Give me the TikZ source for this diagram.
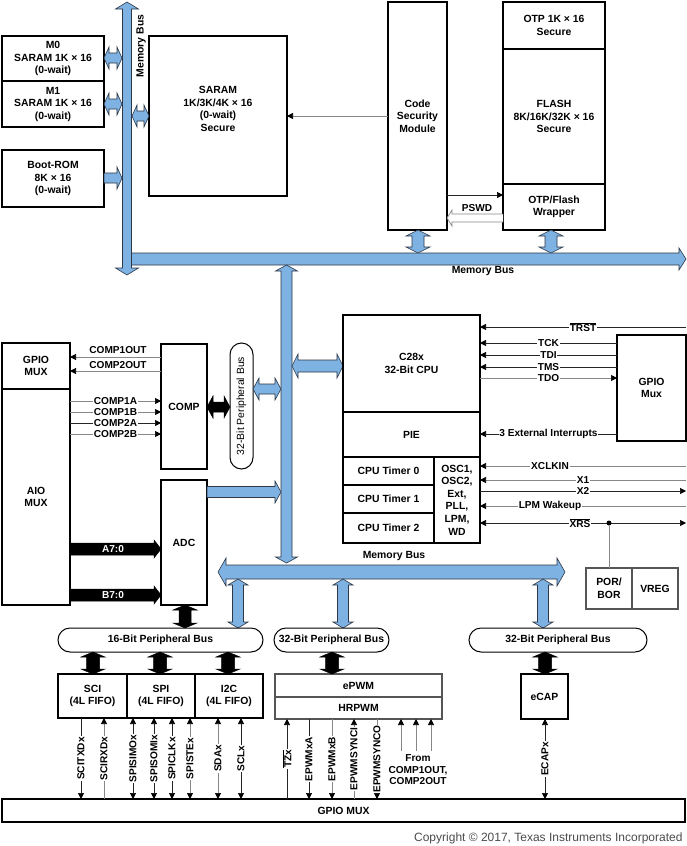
\documentclass[tikz,border=0pt]{standalone}
\usepackage{fontspec}
\setmainfont{Liberation Sans}
\usetikzlibrary{arrows.meta}
\definecolor{busblue}{RGB}{126,178,226}
\definecolor{busline}{RGB}{45,55,70}
\definecolor{sgray}{RGB}{135,135,135}
\definecolor{bgray}{RGB}{85,85,85}
\newcommand{\bxf}{\bfseries\fontsize{10.4}{12.5}\selectfont}
\newcommand{\sgf}{\bfseries\fontsize{10.1}{11.5}\selectfont}
\newcommand{\rgf}{\fontsize{10.4}{12}\selectfont}
\newcommand{\ovl}[1]{$\overline{\mbox{#1}}$}
\newcommand{\busH}[7]{\filldraw[#1] (#2,#4) -- (#2+#7,#4-#6) -- (#2+#7,#4-#5) -- (#3-#7,#4-#5) -- (#3-#7,#4-#6) -- (#3,#4) -- (#3-#7,#4+#6) -- (#3-#7,#4+#5) -- (#2+#7,#4+#5) -- (#2+#7,#4+#6) -- cycle;}
\newcommand{\busV}[7]{\filldraw[#1] (#4,#2) -- (#4+#6,#2+#7) -- (#4+#5,#2+#7) -- (#4+#5,#3-#7) -- (#4+#6,#3-#7) -- (#4,#3) -- (#4-#6,#3-#7) -- (#4-#5,#3-#7) -- (#4-#5,#2+#7) -- (#4-#6,#2+#7) -- cycle;}
\newcommand{\busR}[7]{\filldraw[#1] (#2,#4-#5) -- (#3-#7,#4-#5) -- (#3-#7,#4-#6) -- (#3,#4) -- (#3-#7,#4+#6) -- (#3-#7,#4+#5) -- (#2,#4+#5) -- cycle;}
\begin{document}
\begin{tikzpicture}[x=1pt,y=-1pt,
  box/.style={draw=black, line width=1.7pt, fill=white, inner sep=0pt, outer sep=0pt, align=center, font=\bxf, anchor=north west},
  gbox/.style={box, draw=bgray},
  pbus/.style={draw=black, line width=1pt, rounded corners=12pt, fill=white, inner sep=0pt, outer sep=0pt, anchor=north west, font=\bxf},
  sig/.style={line width=0.7pt, draw=black!85},
  gsig/.style={line width=0.7pt, draw=sgray},
  toarr/.style={-{Triangle[length=6pt,width=6pt,color=black]}},
  fromarr/.style={{Triangle[length=6pt,width=6pt,color=black]}-},
  botharr/.style={{Triangle[length=6pt,width=6pt,color=black]}-{Triangle[length=6pt,width=6pt,color=black]}},
  lab/.style={fill=white, inner sep=0.8pt, font=\sgf},
  vlab/.style={lab, rotate=90},
  busA/.style={fill=busblue, draw=busline, line width=0.6pt},
  blkA/.style={fill=black, draw=black, line width=0.5pt}]
\fill[white] (0,0) rectangle (687,846);
\useasboundingbox (0,0) rectangle (687,846);

% ---------- top memory area ----------
\node[box, minimum width=102pt, minimum height=45pt] (m0) at (2,36) {M0\\SARAM 1K × 16\\(0-wait)};
\node[box, minimum width=102pt, minimum height=46pt] (m1) at (2,81) {M1\\SARAM 1K × 16\\(0-wait)};
\node[box, minimum width=102pt, minimum height=57pt] (boot) at (2,150) {Boot-ROM\\8K × 16\\(0-wait)};
\node[box, minimum width=138pt, minimum height=160pt] (saram) at (149,36) {};
\node[font=\bxf, align=center] (saramt) at (218,109) {SARAM\\1K/3K/4K × 16\\(0-wait)\\Secure};
\node[box, minimum width=59pt, minimum height=228pt] (csm) at (388,2) {Code\\Security\\Module};
\node[box, minimum width=102pt, minimum height=47pt] (otp) at (503,2) {OTP 1K × 16\\Secure};
\node[box, minimum width=102pt, minimum height=135pt] (flash) at (503,49) {FLASH\\8K/16K/32K × 16\\Secure};
\node[box, minimum width=102pt, minimum height=46pt] (wrap) at (503,184) {OTP/Flash\\Wrapper};

% buses
\busV{busA}{2}{275}{127}{4.5}{11.5}{7}
\busR{busA}{131.5}{686}{259}{6}{11}{7}
\busV{busA}{265}{563}{286.5}{5.5}{11}{6}
\busH{busA}{218}{565}{572}{7}{14}{8}
\node[rotate=90, font=\bxf] (mbv) at (141,46) {Memory Bus};
\node[font=\bxf] (mbt) at (483,271) {Memory Bus};
\node[font=\bxf] (mbl) at (394,556) {Memory Bus};

\busH{busA}{104}{122}{58}{5}{11}{5}
\busH{busA}{104}{122}{104}{5}{11}{5}
\busR{busA}{104}{122}{178}{5}{11}{5}
\busH{busA}{132}{149}{116}{5}{11}{5}
\busV{busA}{230}{253}{418}{6}{12}{6}
\busV{busA}{230}{253}{551}{6}{12}{6}

\draw[gsig, toarr] (csm.west |- 0,116) -- (saram.east |- 0,116);
\draw[sig, toarr] (csm.east |- 0,195) -- (wrap.west |- 0,195);
\draw[gsig, fill=white] (wrap.west |- 0,214) -- (452,214) -- (452,210) -- (csm.east |- 0,218) -- (452,226) -- (452,222) -- (wrap.west |- 0,222);
\node[font=\sgf] (pswd) at (477,208) {PSWD};

% ---------- middle left ----------
\node[box, minimum width=68pt, minimum height=46pt] (gml) at (2,343) {GPIO\\MUX};
\node[box, minimum width=68pt, minimum height=216pt] (aio) at (2,389) {AIO\\MUX};
\node[box, minimum width=46pt, minimum height=125pt] (comp) at (161,344) {COMP};
\node[box, minimum width=46pt, minimum height=125pt] (adc) at (161,480) {ADC};
\node[pbus, rounded corners=11.5pt, minimum width=23pt, minimum height=126pt] (pbv) at (230,343) {};
\node[rotate=90, font=\rgf] (pbvt) at (pbv.center) {32-Bit Peripheral Bus};

\draw[gsig, toarr] (comp.west |- 0,357) -- (gml.east |- 0,357);
\node[font=\sgf] (c1o) at (118,350) {COMP1OUT};
\draw[gsig, toarr] (comp.west |- 0,371) -- (gml.east |- 0,371);
\node[font=\sgf] (c2o) at (118,365) {COMP2OUT};
\draw[gsig, toarr] (aio.east |- 0,401) -- node[lab]{COMP1A} (comp.west |- 0,401);
\draw[gsig, toarr] (aio.east |- 0,412) -- node[lab]{COMP1B} (comp.west |- 0,412);
\draw[sig, toarr] (aio.east |- 0,423) -- node[lab]{COMP2A} (comp.west |- 0,423);
\draw[gsig, toarr] (aio.east |- 0,434) -- node[lab]{COMP2B} (comp.west |- 0,434);

\busR{blkA}{70}{161}{549}{6}{9}{7}
\node[font=\sgf, text=white] (a70) at (113,549) {A7:0};
\busR{blkA}{70}{161}{595}{6}{9}{7}
\node[font=\sgf, text=white] (b70) at (113,595) {B7:0};

\busH{blkA}{207}{230}{407}{5}{11}{6}
\busH{busA}{253}{281}{389}{5}{11}{6}
\busR{busA}{207}{281}{492}{5.5}{11}{6}
\busH{busA}{292}{343}{366}{6}{12}{6}

% ---------- CPU ----------
\node[box, minimum width=137pt, minimum height=97pt] (cpu) at (343,315) {C28x\\32-Bit CPU};
\node[box, minimum width=137pt, minimum height=45pt] (pie) at (343,412) {PIE};
\node[box, minimum width=91pt, minimum height=28pt] (t0) at (343,457) {CPU Timer 0};
\node[box, minimum width=91pt, minimum height=28pt] (t1) at (343,485) {CPU Timer 1};
\node[box, minimum width=91pt, minimum height=30pt] (t2) at (343,513) {CPU Timer 2};
\node[box, minimum width=46pt, minimum height=86pt, font=\bfseries\fontsize{10.4}{12.6}\selectfont] (osc) at (434,457) {OSC1,\\OSC2,\\Ext,\\PLL,\\LPM,\\WD};
\node[box, minimum width=69pt, minimum height=106pt] (gpr) at (617,335) {GPIO\\Mux};
\node[gbox, minimum width=46pt, minimum height=41pt] (por) at (586,568) {POR/\\BOR};
\node[gbox, minimum width=46pt, minimum height=41pt] (vreg) at (632,568) {VREG};

\coordinate (rTRST) at (686,327);
\draw[sig, toarr] (rTRST) -- node[lab]{\ovl{TRST}} (cpu.east |- rTRST);
\draw[sig, toarr] (gpr.west |- 0,343) -- node[lab]{TCK} (cpu.east |- 0,343);
\draw[sig, toarr] (gpr.west |- 0,355) -- node[lab]{TDI} (cpu.east |- 0,355);
\draw[sig, toarr] (gpr.west |- 0,367) -- node[lab]{TMS} (cpu.east |- 0,367);
\draw[gsig, toarr] (cpu.east |- 0,378) -- node[lab]{TDO} (gpr.west |- 0,378);
\draw[sig, toarr] (gpr.west |- 0,434) -- node[lab]{3 External Interrupts} (pie.east |- 0,434);
\coordinate (rXCLK) at (686,466);
\draw[gsig, toarr] (rXCLK) -- node[lab, pos=0.66]{XCLKIN} (osc.east |- rXCLK);
\coordinate (rX1) at (686,480);
\draw[gsig, toarr] (rX1) -- node[lab]{X1} (osc.east |- rX1);
\coordinate (rX2) at (686,491);
\draw[sig, toarr] (osc.east |- rX2) -- node[lab]{X2} (rX2);
\coordinate (rLPM) at (686,506);
\draw[gsig, toarr] (rLPM) -- node[lab, pos=0.66]{LPM Wakeup} (osc.east |- rLPM);
\coordinate (rXRS) at (686,523);
\draw[sig, botharr] (osc.east |- rXRS) -- node[lab, pos=0.485]{\ovl{XRS}} (rXRS);
\node[circle, fill=black, inner sep=0pt, minimum size=5pt] (xrsdot) at (609,523) {};
\draw[gsig] (xrsdot) -- (por.north -| xrsdot);

% ---------- peripherals ----------
\busV{busA}{579}{628}{238}{5.5}{10}{6}
\busV{busA}{579}{628}{343}{5.5}{10}{6}
\busV{busA}{579}{628}{543}{5.5}{10}{6}

\node[pbus, minimum width=205pt, minimum height=24pt] (pb16) at (58,628) {16-Bit Peripheral Bus};
\node[pbus, minimum width=115pt, minimum height=24pt] (pb32a) at (274,628) {32-Bit Peripheral Bus};
\node[pbus, minimum width=178pt, minimum height=24pt] (pb32b) at (469,628) {32-Bit Peripheral Bus};

\node[box, minimum width=69pt, minimum height=44pt] (sci) at (58,674) {SCI\\(4L FIFO)};
\node[box, minimum width=68pt, minimum height=44pt] (spi) at (127,674) {SPI\\(4L FIFO)};
\node[box, minimum width=68pt, minimum height=44pt] (i2c) at (195,674) {I2C\\(4L FIFO)};
\node[gbox, minimum width=167pt, minimum height=23pt] (epwm) at (275,674) {ePWM};
\node[gbox, minimum width=167pt, minimum height=22pt] (hrpwm) at (275,697) {HRPWM};
\node[box, minimum width=47pt, minimum height=45pt] (ecap) at (521,674) {eCAP};
\node[box, minimum width=683pt, minimum height=23pt] (gpb) at (2,799) {GPIO MUX};

\busV{blkA}{605}{628}{185}{6}{12}{5}
\busV{blkA}{652}{674}{93}{6.5}{12}{5}
\busV{blkA}{652}{674}{160}{6.5}{12}{5}
\busV{blkA}{652}{674}{228}{6.5}{12}{5}
\busV{blkA}{652}{674}{332}{6.5}{12}{5}
\busV{blkA}{652}{674}{545}{6.5}{12}{5}

\foreach \x/\n/\t/\s/\c in {81/sci/SCITXDx/toarr/sig, 104/sci/SCIRXDx/fromarr/gsig,
  133/spi/SPISIMOx/botharr/sig, 154/spi/SPISOMIx/botharr/sig, 172/spi/SPICLKx/botharr/sig,
  190/spi/SPISTEx/botharr/gsig, 218/i2c/SDAx/botharr/gsig, 241/i2c/SCLx/botharr/sig,
  287/hrpwm/\ovl{TZx}/fromarr/sig, 309/hrpwm/EPWMxA/toarr/sig, 332/hrpwm/EPWMxB/toarr/gsig,
  354/hrpwm/EPWMSYNCI/fromarr/gsig, 377/hrpwm/EPWMSYNCO/toarr/gsig, 545/ecap/ECAPx/botharr/sig}
  \draw[\c, \s] (\n.south -| \x,0) -- node[vlab]{\t} (gpb.north -| \x,0);

\node[font=\bfseries\fontsize{10.1}{11.5}\selectfont, align=center] (from) at (418,770) {From\\COMP1OUT,\\COMP2OUT};
\foreach \x in {401,416,431}
  \draw[gsig, fromarr] (hrpwm.south -| \x,0) -- (from.north -| \x,0);

\node[anchor=east, font=\fontsize{12}{14}\selectfont, text=black!70] (copy) at (686,838) {Copyright © 2017, Texas Instruments Incorporated};
\end{tikzpicture}
\end{document}
